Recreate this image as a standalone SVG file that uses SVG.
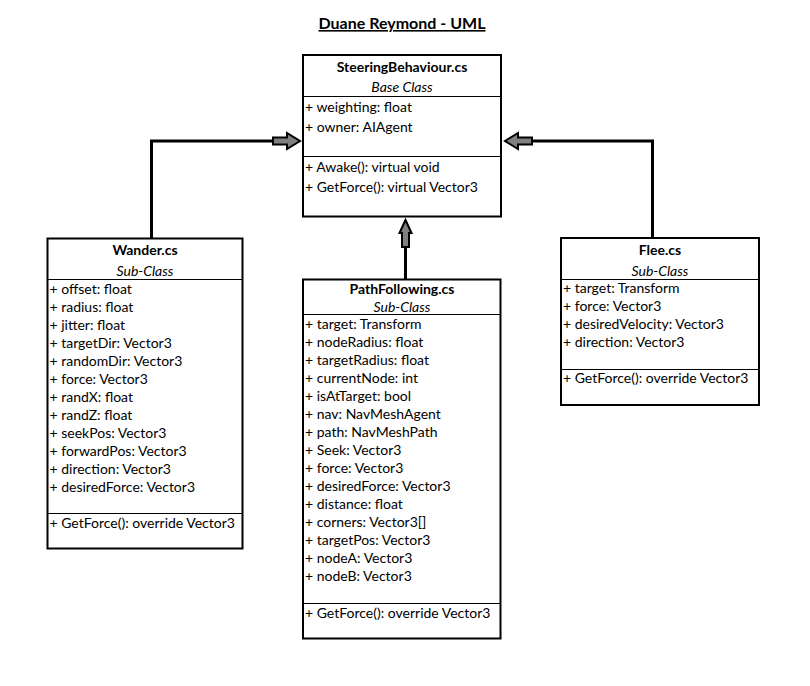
<svg xmlns="http://www.w3.org/2000/svg" width="810" height="686" viewBox="0 0 810 686">
<style>
text{font-family:Lato,"Liberation Sans",sans-serif;font-size:14px;fill:#000}
.t{font-weight:bold;text-anchor:middle}
.s{font-style:italic;text-anchor:middle}
.box{fill:#fff;stroke:#000;stroke-width:2}
.div{stroke:#000;stroke-width:1}
.conn{fill:none;stroke:#000;stroke-width:3}
.head{fill:#808080;stroke:#000;stroke-width:2;stroke-linejoin:miter}
</style>
<rect width="810" height="686" fill="#fff"/>
<g id="title">
<text x="402" y="29" class="t" style="font-size:16px;text-decoration:underline">Duane Reymond - UML</text>
</g>
<g id="connectors">
<polyline class="conn" points="151.5,238 151.5,141 274,141"/>
<polygon class="head" points="273,137.5 287,137.5 287,133 300,141 287,149 287,144.5 273,144.5"/>
<polyline class="conn" points="652.5,238 652.5,141 532,141"/>
<polygon class="head" points="532,137.5 518,137.5 518,133 505,141 518,149 518,144.5 532,144.5"/>
<line class="conn" x1="405.5" y1="279" x2="405.5" y2="246"/>
<polygon class="head" points="402,247 402,233 399.5,233 405.5,220 411.5,233 409,233 409,247"/>
</g>
<g id="SteeringBehaviour">
<rect class="box" x="303" y="55" width="198" height="161.5"/>
<line class="div" x1="303" y1="96.5" x2="501" y2="96.5"/>
<line class="div" x1="303" y1="156.5" x2="501" y2="156.5"/>
<text x="402" y="72" class="t">SteeringBehaviour.cs</text>
<text x="402" y="92" class="s">Base Class</text>
<text x="305" y="112">+ weighting: float</text>
<text x="305" y="132">+ owner: AIAgent</text>
<text x="305" y="172">+ Awake(): virtual void</text>
<text x="305" y="192">+ GetForce(): virtual Vector3</text>
</g>
<g id="Wander">
<rect class="box" x="47.5" y="238.5" width="195" height="310"/>
<line class="div" x1="47.5" y1="279.5" x2="242.5" y2="279.5"/>
<line class="div" x1="47.5" y1="513.5" x2="242.5" y2="513.5"/>
<text x="145" y="255" class="t">Wander.cs</text>
<text x="145" y="275.5" class="s">Sub-Class</text>
<text x="49.5" y="293.5">+ offset: float</text>
<text x="49.5" y="311.5">+ radius: float</text>
<text x="49.5" y="329.5">+ jitter: float</text>
<text x="49.5" y="347.5">+ targetDir: Vector3</text>
<text x="49.5" y="365.5">+ randomDir: Vector3</text>
<text x="49.5" y="383.5">+ force: Vector3</text>
<text x="49.5" y="401.5">+ randX: float</text>
<text x="49.5" y="419.5">+ randZ: float</text>
<text x="49.5" y="437.5">+ seekPos: Vector3</text>
<text x="49.5" y="455.5">+ forwardPos: Vector3</text>
<text x="49.5" y="473.5">+ direction: Vector3</text>
<text x="49.5" y="491.5">+ desiredForce: Vector3</text>
<text x="49.5" y="527.5">+ GetForce(): override Vector3</text>
</g>
<g id="PathFollowing">
<rect class="box" x="303" y="279.5" width="197.5" height="359"/>
<line class="div" x1="303" y1="314.5" x2="500.5" y2="314.5"/>
<line class="div" x1="303" y1="603.5" x2="500.5" y2="603.5"/>
<text x="402" y="294" class="t">PathFollowing.cs</text>
<text x="402" y="311.5" class="s">Sub-Class</text>
<text x="305" y="329">+ target: Transform</text>
<text x="305" y="347">+ nodeRadius: float</text>
<text x="305" y="365">+ targetRadius: float</text>
<text x="305" y="383">+ currentNode: int</text>
<text x="305" y="401">+ isAtTarget: bool</text>
<text x="305" y="419">+ nav: NavMeshAgent</text>
<text x="305" y="437">+ path: NavMeshPath</text>
<text x="305" y="455">+ Seek: Vector3</text>
<text x="305" y="473">+ force: Vector3</text>
<text x="305" y="491">+ desiredForce: Vector3</text>
<text x="305" y="509">+ distance: float</text>
<text x="305" y="527">+ corners: Vector3[]</text>
<text x="305" y="545">+ targetPos: Vector3</text>
<text x="305" y="563">+ nodeA: Vector3</text>
<text x="305" y="581">+ nodeB: Vector3</text>
<text x="305" y="617.5">+ GetForce(): override Vector3</text>
</g>
<g id="Flee">
<rect class="box" x="561" y="238" width="198" height="167"/>
<line class="div" x1="561" y1="279.5" x2="759" y2="279.5"/>
<line class="div" x1="561" y1="369.5" x2="759" y2="369.5"/>
<text x="660" y="255" class="t">Flee.cs</text>
<text x="660" y="275.5" class="s">Sub-Class</text>
<text x="563" y="293">+ target: Transform</text>
<text x="563" y="311">+ force: Vector3</text>
<text x="563" y="329">+ desiredVelocity: Vector3</text>
<text x="563" y="347">+ direction: Vector3</text>
<text x="563" y="383">+ GetForce(): override Vector3</text>
</g>
</svg>
